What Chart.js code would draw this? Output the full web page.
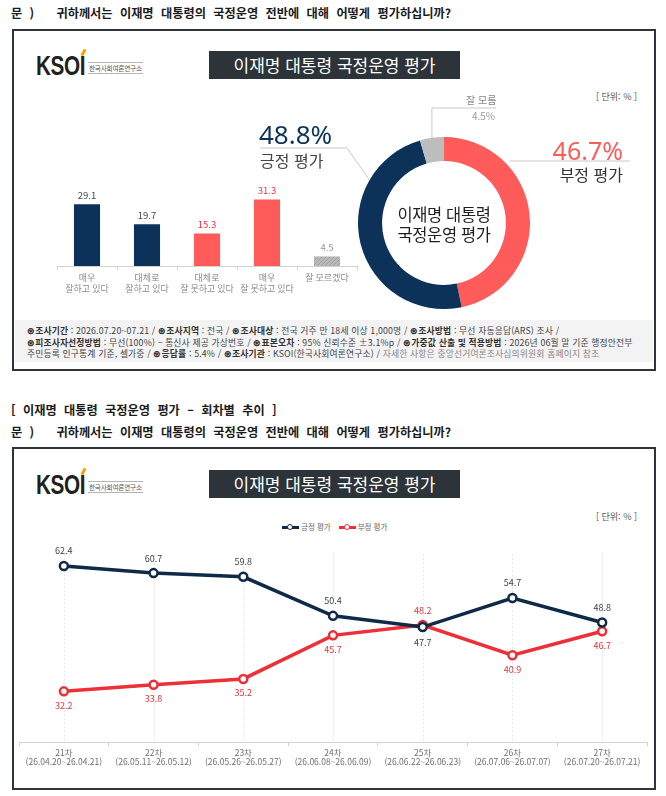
<!DOCTYPE html>
<html lang="ko">
<head>
<meta charset="UTF-8">
<title>이재명 대통령 국정운영 평가</title>
<script src="https://cdn.jsdelivr.net/npm/chart.js@4.4.1/dist/chart.umd.min.js"></script>
<style>
    body { margin: 0; background: #fff; font-family: 'Noto Sans CJK KR', 'Noto Sans', sans-serif; }
    .page { position: relative; width: 666px; height: 796px; overflow: hidden; }
    .abs { position: absolute; white-space: nowrap; }
    .question { font-weight: 700; font-size: 12.2px; line-height: 16px; color: #1b1b1b; word-spacing: 4px; }
    .frame { position: absolute; left: 12px; width: 640px; border: 2px solid #2f3439; }
    .title-box { position: absolute; left: 209px; width: 251px; height: 28px; background: #2c3339; color: #fff;
                 font-size: 17px; line-height: 28px; text-align: center; }
    .logo { position: absolute; left: 36px; width: 120px; height: 24px; white-space: nowrap; }
    .logo .mark { position: absolute; left: 0; top: -4px; font-family: 'Liberation Sans', sans-serif; font-weight: 700;
                  font-size: 28px; line-height: 30px; color: #231f20; transform: scaleX(0.74); transform-origin: left; letter-spacing: -0.5px; }
    .logo .accent { position: absolute; left: 46px; top: -6px; width: 3px; height: 7px; background: #f5a100; transform: rotate(28deg); }
    .logo .name { position: absolute; left: 52px; top: 7px; font-size: 6.6px; line-height: 10px; color: #555;
                  border-top: 1px solid #b5b5b5; border-bottom: 1px solid #b5b5b5; padding: 0 1px; letter-spacing: -0.2px; }
    .unit { font-size: 9px; color: #555; line-height: 12px; }
    .chart-box { position: absolute; }
    .footer { position: absolute; left: 15px; top: 320px; width: 638px; height: 42px; background: #f3f3f3; }
    .footer-text { position: absolute; left: 27px; top: 325px; font-size: 8.8px; line-height: 11.7px; color: #444; letter-spacing: 0.15px; }
    .footer-text b { color: #333; }
    .footer-text .dim { color: #888; }
    .big-num { font-size: 26px; line-height: 30px; font-family: 'Noto Sans', sans-serif; }
    .big-label { font-size: 16px; line-height: 20px; }
    .center-text { font-size: 16.5px; line-height: 20px; color: #1f1f1f; text-align: center; letter-spacing: -0.4px; }
    .legend { font-size: 7.5px; line-height: 10px; color: #666; display: flex; align-items: center; }
    .legend .key { position: relative; width: 17px; height: 10px; margin-right: 2px; }
    .legend .key::before { content: ''; position: absolute; left: 0; right: 0; top: 4px; height: 2.5px; background: var(--c); }
    .legend .key::after { content: ''; position: absolute; left: 5px; top: 2px; width: 4px; height: 4px; border: 1.5px solid var(--c);
                          border-radius: 50%; background: #fff; }
    .legend .item { display: flex; align-items: center; margin-right: 8px; }
</style>
</head>
<body>
<div class="page">
    <!-- 상단: 이번 조사 -->
    <div class="abs question" style="left:11px; top:5px;">문 )&nbsp;&nbsp; 귀하께서는 이재명 대통령의 국정운영 전반에 대해 어떻게 평가하십니까?</div>
    <div class="frame" style="top:29px; height:338px;"></div>
    <div class="logo" style="top:55px;"><span class="mark">KSOI</span><span class="accent"></span><span class="name">한국사회여론연구소</span></div>
    <div class="title-box" style="top:51px;">이재명 대통령 국정운영 평가</div>
    <div class="abs unit" style="left:596px; top:91px;">[ 단위: % ]</div>

    <div class="chart-box" style="left:35px; top:176px; width:330px; height:124px;"><canvas id="barChart"></canvas></div>
    <div class="chart-box" style="left:240px; top:88px; width:410px; height:230px;"><canvas id="donutChart"></canvas></div>

    <div id="donutLabels"></div>
    <div class="abs center-text" style="left:364px; top:204px; width:160px;">이재명 대통령<br>국정운영 평가</div>

    <div class="footer"></div>
    <div class="footer-text abs">
        <b>⊛조사기간</b> : 2026.07.20~07.21 / <b>⊛조사지역</b> : 전국 / <b>⊛조사대상</b> : 전국 거주 만 18세 이상 1,000명 / <b>⊛조사방법</b> : 무선 자동응답(ARS) 조사 /<br>
        <b>⊛피조사자선정방법</b> : 무선(100%) – 통신사 제공 가상번호 / <b>⊛표본오차</b> : 95% 신뢰수준 ±3.1%p / <b>⊛가중값 산출 및 적용방법</b> : 2026년 06월 말 기준 행정안전부<br>
        주민등록 인구통계 기준, 셀가중 / <b>⊛응답률</b> : 5.4% / <b>⊛조사기관</b> : KSOI(한국사회여론연구소) / <span class="dim">자세한 사항은 중앙선거여론조사심의위원회 홈페이지 참조</span>
    </div>

    <!-- 하단: 회차별 추이 -->
    <div class="abs question" style="left:11px; top:402px;">[ 이재명 대통령 국정운영 평가 – 회차별 추이 ]</div>
    <div class="abs question" style="left:11px; top:424px;">문 )&nbsp;&nbsp; 귀하께서는 이재명 대통령의 국정운영 전반에 대해 어떻게 평가하십니까?</div>
    <div class="frame" style="top:447px; height:339px;"></div>
    <div class="logo" style="top:474px;"><span class="mark">KSOI</span><span class="accent"></span><span class="name">한국사회여론연구소</span></div>
    <div class="title-box" style="top:470px;">이재명 대통령 국정운영 평가</div>
    <div class="abs unit" style="left:596px; top:511px;">[ 단위: % ]</div>
    <div class="abs legend" id="trendLegend" style="left:282px; top:522px;"></div>

    <div class="chart-box" style="left:12px; top:528px; width:646px; height:262px;"><canvas id="lineChart"></canvas></div>
</div>

<script>
    // ---- 이번 조사: 세부 응답 ----
    const barCategories = [['매우', '잘하고 있다'], ['대체로', '잘하고 있다'], ['대체로', '잘 못하고 있다'], ['매우', '잘 못하고 있다'], ['잘 모르겠다']];
    const barValues = [29.1, 19.7, 15.3, 31.3, 4.5];

    // ---- 이번 조사: 종합 평가 ----
    const donutLabels = ['부정 평가', '긍정 평가', '잘 모름'];
    const donutValues = [46.7, 48.8, 4.5];

    // ---- 회차별 추이 ----
    const rounds = ['21차', '22차', '23차', '24차', '25차', '26차', '27차'];
    const periods = ['(26.04.20~26.04.21)', '(26.05.11~26.05.12)', '(26.05.26~26.05.27)', '(26.06.08~26.06.09)',
                     '(26.06.22~26.06.23)', '(26.07.06~26.07.07)', '(26.07.20~26.07.21)'];
    const positiveTrend = [62.4, 60.7, 59.8, 50.4, 47.7, 54.7, 48.8];
    const negativeTrend = [32.2, 33.8, 35.2, 45.7, 48.2, 40.9, 46.7];

    const NAVY = '#0c3259';
    const CORAL = '#ff5b5b';
    const GRAY = '#bdbdbd';
    const LINE_NAVY = '#0f2a47';
    const LINE_RED = '#ee2f38';
    const FONT = "'Noto Sans CJK KR', 'Noto Sans', sans-serif";

    // hatched gray for "잘 모르겠다"
    function hatch(color) {
        const c = document.createElement('canvas');
        c.width = 4; c.height = 4;
        const g = c.getContext('2d');
        g.fillStyle = color; g.fillRect(0, 0, 4, 4);
        g.strokeStyle = '#9d9d9d'; g.lineWidth = 1;
        g.beginPath(); g.moveTo(0, 4); g.lineTo(4, 0); g.stroke();
        return g.createPattern(c, 'repeat');
    }

    const barColors = [NAVY, NAVY, CORAL, CORAL, hatch('#bababa')];
    const barTextColors = ['#3b4a5e', '#3b4a5e', '#e8333d', '#e8333d', '#999'];

    const barValueLabels = {
        id: 'barValueLabels',
        afterDatasetsDraw(chart) {
            const ctx = chart.ctx;
            ctx.save();
            ctx.font = '9.5px ' + FONT;
            ctx.textAlign = 'center';
            ctx.textBaseline = 'middle';
            chart.getDatasetMeta(0).data.forEach((bar, i) => {
                ctx.fillStyle = barTextColors[i];
                ctx.fillText(barValues[i].toFixed(1), bar.x, bar.y - 9);
            });
            ctx.restore();
        }
    };

    new Chart(document.getElementById('barChart'), {
        type: 'bar',
        data: {
            labels: barCategories,
            datasets: [{ data: barValues, backgroundColor: barColors, barPercentage: 0.5, categoryPercentage: 0.87 }]
        },
        options: {
            responsive: true,
            maintainAspectRatio: false,
            animation: false,
            layout: { padding: { top: 5, left: 22, right: 8, bottom: 0 } },
            plugins: { legend: { display: false }, tooltip: { enabled: false } },
            scales: {
                x: {
                    afterFit: (s) => { s.height = 34; },
                    grid: { drawOnChartArea: false, tickLength: 4, color: '#d2d2d2' },
                    border: { color: '#d2d2d2' },
                    ticks: { color: '#8a8a8a', font: { size: 9, family: FONT }, padding: 2, maxRotation: 0, autoSkip: false }
                },
                y: { display: false, min: 0, max: 40 }
            }
        },
        plugins: [barValueLabels]
    });

    // ---- doughnut ----
    const leaderLines = {
        id: 'leaderLines',
        afterDatasetsDraw(chart) {
            const arcs = chart.getDatasetMeta(0).data;
            const cx = arcs[0].x, cy = arcs[0].y, r = arcs[0].outerRadius;
            const ctx = chart.ctx;
            ctx.save();
            ctx.strokeStyle = '#c9c9c9';
            ctx.lineWidth = 1;
            // 부정 평가
            const dy = 62;
            ctx.beginPath();
            ctx.moveTo(cx + Math.sqrt(r * r - dy * dy) + 6, cy - dy);
            ctx.lineTo(cx + 186, cy - dy);
            ctx.stroke();
            // 긍정 평가
            const a = 300 * Math.PI / 180;
            ctx.beginPath();
            ctx.moveTo(cx + r * Math.sin(a), cy - r * Math.cos(a));
            ctx.lineTo(cx - 97, cy - 75);
            ctx.lineTo(cx - 184, cy - 75);
            ctx.stroke();
            // 잘 모름
            const g = arcs[2];
            const mid = (g.startAngle + g.endAngle) / 2;
            const gx = cx + r * Math.cos(mid), gy = cy + r * Math.sin(mid);
            ctx.beginPath();
            ctx.moveTo(gx, gy);
            ctx.lineTo(gx, cy - 115);
            ctx.lineTo(cx + 52, cy - 115);
            ctx.stroke();
            ctx.restore();
        }
    };

    new Chart(document.getElementById('donutChart'), {
        type: 'doughnut',
        data: {
            labels: donutLabels,
            datasets: [{ data: donutValues, backgroundColor: [CORAL, NAVY, GRAY], borderWidth: 0 }]
        },
        options: {
            responsive: true,
            maintainAspectRatio: false,
            animation: false,
            cutout: '72%',
            layout: { padding: { top: 49, bottom: 9, left: 0, right: 2 } },
            plugins: { legend: { display: false }, tooltip: { enabled: false } }
        },
        plugins: [leaderLines]
    });

    // donut text labels (HTML)
    const dl = document.getElementById('donutLabels');
    dl.innerHTML = `
        <div class="abs big-num" style="left:259px; top:119px; color:${NAVY};">${donutValues[1].toFixed(1)}%</div>
        <div class="abs big-label" style="left:260px; top:150px; color:#444;">${donutLabels[1]}</div>
        <div class="abs big-num" style="right:43px; top:135px; color:${CORAL}; font-size:25px;">${donutValues[0].toFixed(1)}%</div>
        <div class="abs big-label" style="right:43px; top:164px; color:#333;">${donutLabels[0]}</div>
        <div class="abs" style="left:466px; top:94px; font-size:10px; line-height:12px; color:#888;">${donutLabels[2]}</div>
        <div class="abs" style="right:171px; top:110px; font-size:10px; line-height:12px; color:#999;">${donutValues[2].toFixed(1)}%</div>
    `;

    // ---- 회차별 추이 ----
    document.getElementById('trendLegend').innerHTML = `
        <span class="item"><span class="key" style="--c:${LINE_NAVY}"></span>긍정 평가</span>
        <span class="item"><span class="key" style="--c:${LINE_RED}"></span>부정 평가</span>
    `;

    const centerGuides = {
        id: 'centerGuides',
        beforeDatasetsDraw(chart) {
            const { ctx, chartArea } = chart;
            const x = chart.scales.x;
            ctx.save();
            ctx.strokeStyle = '#e6e6e6';
            ctx.lineWidth = 1;
            ctx.setLineDash([2, 2]);
            rounds.forEach((_, i) => {
                const px = Math.round(x.getPixelForValue(i)) + 0.5;
                ctx.beginPath();
                ctx.moveTo(px, chartArea.top + 20);
                ctx.lineTo(px, chartArea.bottom);
                ctx.stroke();
            });
            ctx.restore();
        }
    };

    const trendLabels = {
        id: 'trendLabels',
        afterDatasetsDraw(chart) {
            const ctx = chart.ctx;
            ctx.save();
            ctx.font = '9px ' + FONT;
            ctx.textAlign = 'center';
            ctx.textBaseline = 'middle';
            const pos = chart.getDatasetMeta(0).data;
            const neg = chart.getDatasetMeta(1).data;
            rounds.forEach((_, i) => {
                const posAbove = positiveTrend[i] >= negativeTrend[i];
                ctx.fillStyle = '#3a4250';
                ctx.fillText(positiveTrend[i].toFixed(1), pos[i].x, pos[i].y + (posAbove ? -15 : 16));
                ctx.fillStyle = '#e8333d';
                ctx.fillText(negativeTrend[i].toFixed(1), neg[i].x, neg[i].y + (posAbove ? 14 : -14));
            });
            ctx.restore();
        }
    };

    new Chart(document.getElementById('lineChart'), {
        type: 'line',
        data: {
            labels: rounds.map((r, i) => [r, periods[i]]),
            datasets: [
                { label: '긍정 평가', data: positiveTrend, borderColor: LINE_NAVY, borderWidth: 3.5, pointRadius: 4,
                  pointBorderWidth: 2.5, pointBackgroundColor: '#fff', pointBorderColor: LINE_NAVY, tension: 0 },
                { label: '부정 평가', data: negativeTrend, borderColor: LINE_RED, borderWidth: 3.5, pointRadius: 4,
                  pointBorderWidth: 2.5, pointBackgroundColor: '#fff', pointBorderColor: LINE_RED, tension: 0 }
            ]
        },
        options: {
            responsive: true,
            maintainAspectRatio: false,
            animation: false,
            layout: { padding: { top: 5, left: 7, right: 11, bottom: 0 } },
            plugins: { legend: { display: false }, tooltip: { enabled: false } },
            scales: {
                x: {
                    offset: true,
                    afterFit: (s) => { s.height = 48; },
                    grid: { offset: true, drawOnChartArea: false, tickLength: 4, color: '#d2d2d2' },
                    border: { color: '#d2d2d2' },
                    ticks: { color: '#6f6f6f', font: { size: 8.5, family: FONT, lineHeight: 1.1 }, padding: 2, maxRotation: 0, autoSkip: false }
                },
                y: { display: false, min: 20, max: 70 }
            }
        },
        plugins: [centerGuides, trendLabels]
    });
</script>
</body>
</html>
